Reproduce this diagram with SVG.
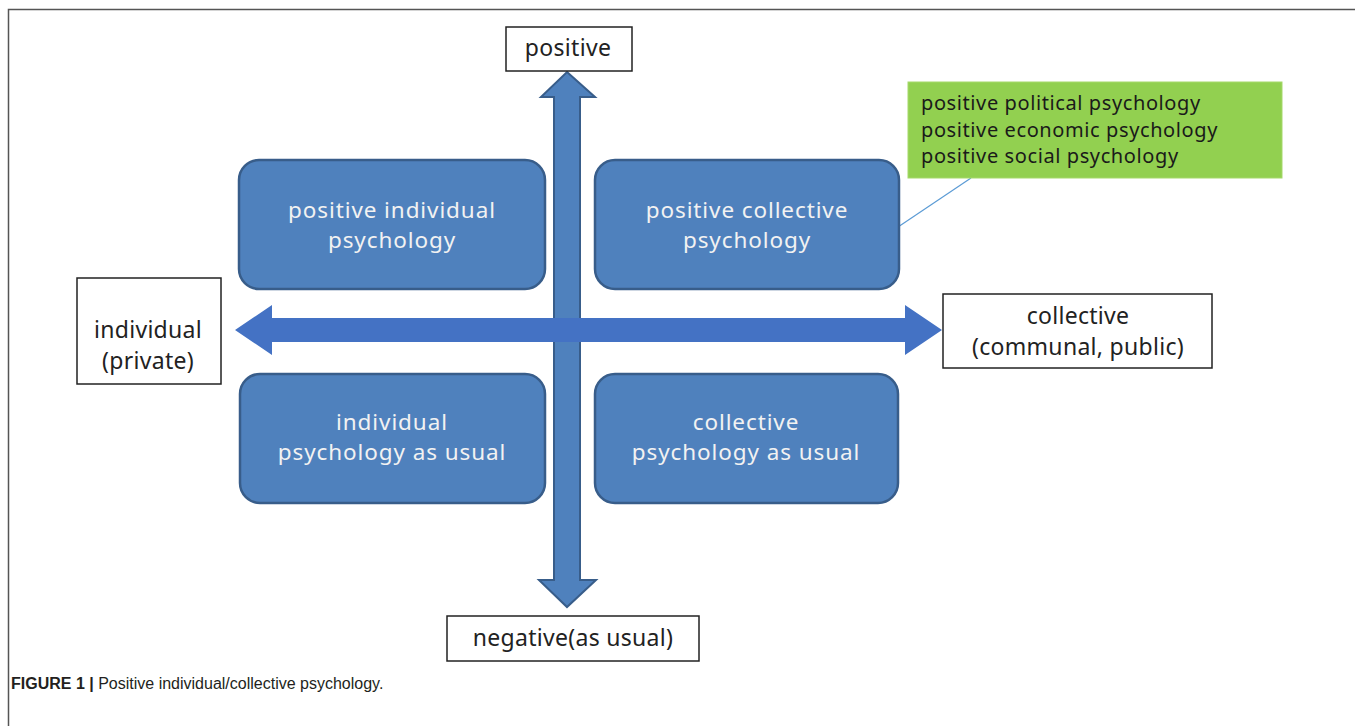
<svg xmlns="http://www.w3.org/2000/svg" width="1357" height="726" viewBox="0 0 1357 726">
<style>
.lbl{fill:#fff;stroke:#222;stroke-width:1.5}
.lt{font-family:"Noto Sans","DejaVu Sans",sans-serif;font-size:23px;letter-spacing:0.3px;fill:#222;text-anchor:middle}
.q{fill:#4F81BD;stroke:#385D8A;stroke-width:2.5}
.qt{font-family:"Noto Sans","DejaVu Sans",sans-serif;font-size:22.5px;letter-spacing:0.9px;fill:#F2F2F2;text-anchor:middle}
.gt{font-family:"Noto Sans","DejaVu Sans",sans-serif;font-size:20px;letter-spacing:0.6px;fill:#1a1a1a}
.cap{font-family:"Liberation Sans",Arial,sans-serif;font-size:16px;fill:#231F20}
</style>
<rect width="1357" height="726" fill="#fff"/>
<path d="M8.5 726 V9.5 H1355" fill="none" stroke="#555" stroke-width="1.5"/>
<g id="connectors">
<path id="vertical-arrow" d="M567 72 L595 97 L580 97 L580 580 L596 580 L567 607 L539 580 L554 580 L554 97 L541 97 Z" fill="#4F81BD" stroke="#385D8A" stroke-width="2"/>
<path id="horizontal-arrow" d="M235 330 L272 305 L272 318 L905 318 L905 305 L942 330 L905 355 L905 342 L272 342 L272 355 Z" fill="#4472C4"/>
<line x1="898" y1="227" x2="971" y2="178" stroke="#5B9BD5" stroke-width="1.2"/>
</g>
<g id="positive">
<rect class="lbl" x="506" y="27" width="126" height="44"/>
<text class="lt" x="568" y="56">positive</text>
</g>
<g id="negative">
<rect class="lbl" x="447" y="616" width="252" height="45"/>
<text class="lt" x="573" y="646" letter-spacing="1">negative(as usual)</text>
</g>
<g id="individual">
<rect class="lbl" x="77" y="278" width="144" height="106"/>
<text class="lt" x="148" y="338">individual</text>
<text class="lt" x="148" y="369">(private)</text>
</g>
<g id="collective">
<rect class="lbl" x="943" y="294" width="269" height="74"/>
<text class="lt" x="1078" y="324">collective</text>
<text class="lt" x="1078" y="355">(communal, public)</text>
</g>
<g id="positive-individual">
<rect class="q" x="239" y="160" width="306" height="129" rx="20"/>
<text class="qt" x="392" y="218">positive individual</text>
<text class="qt" x="392" y="248">psychology</text>
</g>
<g id="positive-collective">
<rect class="q" x="595" y="160" width="304" height="129" rx="20"/>
<text class="qt" x="747" y="218">positive collective</text>
<text class="qt" x="747" y="248">psychology</text>
</g>
<g id="individual-as-usual">
<rect class="q" x="240" y="374" width="305" height="129" rx="20"/>
<text class="qt" x="392" y="430">individual</text>
<text class="qt" x="392" y="460">psychology as usual</text>
</g>
<g id="collective-as-usual">
<rect class="q" x="595" y="374" width="303" height="129" rx="20"/>
<text class="qt" x="746" y="430">collective</text>
<text class="qt" x="746" y="460">psychology as usual</text>
</g>
<g id="green-note">
<rect x="908" y="82" width="374" height="96" fill="#92D050" stroke="#A5D96B" stroke-width="1"/>
<text class="gt" x="921" y="110">positive political psychology</text>
<text class="gt" x="921" y="137">positive economic psychology</text>
<text class="gt" x="921" y="163">positive social psychology</text>
</g>
<text class="cap" x="11" y="689"><tspan font-weight="bold">FIGURE 1 | </tspan>Positive individual/collective psychology.</text>
</svg>
